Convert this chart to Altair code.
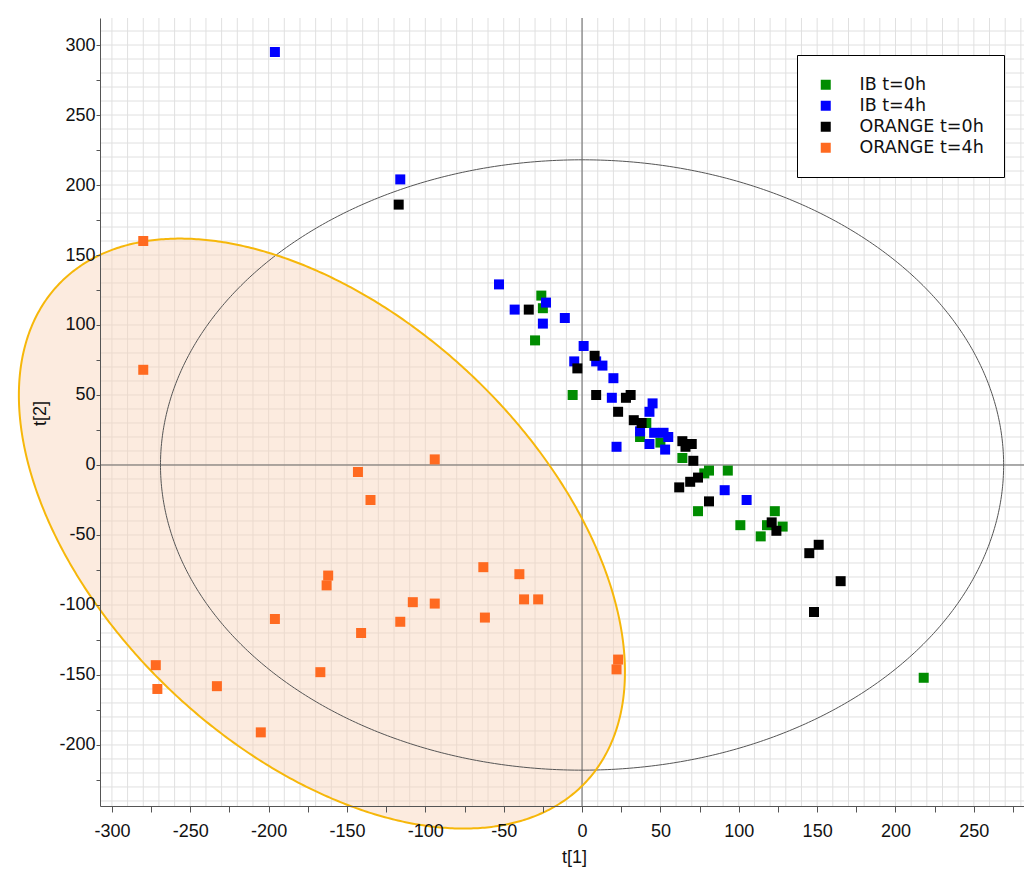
import numpy as np
import pandas as pd
import altair as alt

# ---------------- data ----------------
groups = ["IB t=0h", "IB t=4h", "ORANGE t=0h", "ORANGE t=4h"]
colors = ["#008c00", "#0000ff", "#000000", "#ff6a20"]

ib0_x = [-26, -25, -30, -6, 41, 37, 50, 64, 81, 78, 93, 74, 101, 123, 118, 128, 114, 218]
ib0_y = [121, 112, 89, 50, 30, 20, 16, 5, -4, -6, -4, -33, -43, -33, -43, -44, -51, -152]

ib4_x = [-196, -116, -53, -43, -23, -25, -11, 1, -5, 9, 13, 20, 19, 45, 43, 37, 46, 52, 55, 43, 53, 22, 91, 105]
ib4_y = [295, 204, 129, 111, 116, 101, 105, 85, 74, 74, 71, 62, 48, 44, 38, 24, 23, 23, 20, 15, 11, 13, -18, -25]

or0_x = [-117, -34, 8, -3, 9, 28, 31, 23, 33, 38, 64, 70, 66, 71, 74, 69, 62, 81, 121, 124, 151, 145, 165, 148]
or0_y = [186, 111, 78, 69, 50, 48, 50, 38, 32, 30, 17, 15, 13, 3, -9, -12, -16, -26, -41, -47, -57, -63, -83, -105]

or4_x = [-280, -280, -94, -143, -135, -63, -40, -162, -163, -37, -28, -108, -94, -196, -116, -62, -141, -272, -167, -271, -233, -205, 23, 22]
or4_y = [160, 68, 4, -5, -25, -73, -78, -79, -86, -96, -96, -98, -99, -110, -112, -109, -120, -143, -148, -160, -158, -191, -139, -146]

# Hotelling T2 ellipse (centred at origin) and the ORANGE t=4h group ellipse
t2_semi_axes = [269, 218]
orange_center = [-166, -49]
orange_cov = [[37390, -19095], [-19095, 44401]]

x_domain = [-307.6, 282]
y_domain = [-243.6, 319.3]
x_ticks = list(range(-300, 276, 25))
y_ticks = list(range(-225, 301, 25))
grid_x = list(range(-300, 281, 10))
grid_y = list(range(-240, 311, 10))

# ---------------- frames ----------------
pts = pd.DataFrame({
    "x": ib0_x + ib4_x + or0_x + or4_x,
    "y": ib0_y + ib4_y + or0_y + or4_y,
    "g": [groups[0]] * len(ib0_x) + [groups[1]] * len(ib4_x)
         + [groups[2]] * len(or0_x) + [groups[3]] * len(or4_x),
})

th = np.linspace(0, 2 * np.pi, 721)
t2 = pd.DataFrame({"x": t2_semi_axes[0] * np.cos(th),
                   "y": t2_semi_axes[1] * np.sin(th),
                   "o": np.arange(len(th))})

L = np.linalg.cholesky(np.array(orange_cov, dtype=float))
cx, cy = orange_center
oline = pd.DataFrame({"x": cx + L[0, 0] * np.cos(th),
                      "y": cy + L[1, 0] * np.cos(th) + L[1, 1] * np.sin(th),
                      "o": np.arange(len(th))})
th2 = np.linspace(0, np.pi, 400)
oarea = pd.DataFrame({"x": cx + L[0, 0] * np.cos(th2),
                      "y": cy + L[1, 0] * np.cos(th2) + L[1, 1] * np.sin(th2),
                      "y2": cy + L[1, 0] * np.cos(th2) - L[1, 1] * np.sin(th2)})

gx = pd.DataFrame({"x": grid_x})
gy = pd.DataFrame({"y": grid_y})
zero = pd.DataFrame({"x": [0], "y": [0]})

# ---------------- scales & axes ----------------
xs = alt.Scale(domain=x_domain, nice=False, zero=False)
ys = alt.Scale(domain=y_domain, nice=False, zero=False)

FONT = "Liberation Sans"
ax_x = alt.Axis(values=x_ticks,
                labelExpr="datum.value % 50 === 0 ? toString(datum.value) : ''",
                grid=False, domainColor="#555", tickColor="#555", tickSize=6,
                labelPadding=10, labelFont=FONT, labelFontSize=18, labelColor="#111",
                labelOverlap=False, labelFlush=False, labelBound=False,
                title="t[1]", titleFont=FONT, titleFontSize=18, titleFontWeight="normal",
                titleColor="#111", titleX=474, titleY=51, titleBaseline="middle",
                titleAlign="center", zindex=1)
ax_y = alt.Axis(values=y_ticks,
                labelExpr="datum.value % 50 === 0 ? toString(datum.value) : ''",
                grid=False, domainColor="#555", tickColor="#555", tickSize=4,
                labelPadding=1, labelFont=FONT, labelFontSize=18, labelColor="#111",
                labelOverlap=False, labelFlush=False, labelBound=False,
                title="t[2]", titleFont=FONT, titleFontSize=18, titleFontWeight="normal",
                titleColor="#111", titleX=-60, titleY=395,
                titleBaseline="middle", titleAlign="center", titleAngle=270, zindex=1)

X = lambda f="x": alt.X(f"{f}:Q", scale=xs, axis=ax_x)
Y = lambda f="y": alt.Y(f"{f}:Q", scale=ys, axis=ax_y)

grid_v = alt.Chart(gx).mark_rule(color="#e0e0e0", strokeWidth=1).encode(x=X())
grid_h = alt.Chart(gy).mark_rule(color="#e0e0e0", strokeWidth=1).encode(y=Y())

orange_fill = alt.Chart(oarea).mark_area(color="#f9d2b8", opacity=0.45).encode(
    x=X(), y=Y(), y2="y2:Q")
t2_line = alt.Chart(t2).mark_line(color="#555", strokeWidth=1).encode(
    x=X(), y=Y(), order="o:Q")
zero_v = alt.Chart(zero).mark_rule(color="#666", strokeWidth=1).encode(x=X())
zero_h = alt.Chart(zero).mark_rule(color="#666", strokeWidth=1).encode(y=Y())
orange_line = alt.Chart(oline).mark_line(color="#f6b70a", strokeWidth=2).encode(
    x=X(), y=Y(), order="o:Q")

points = alt.Chart(pts).mark_square(size=100, opacity=1, strokeWidth=0).encode(
    x=X(), y=Y(),
    color=alt.Color("g:N", scale=alt.Scale(domain=groups, range=colors),
                    legend=alt.Legend(title=" ", titleFontSize=1, titlePadding=0,
                                      orient="none", legendX=697, legendY=37,
                                      strokeColor="black", fillColor="white", padding=20,
                                      symbolType="square", symbolSize=100,
                                      symbolStrokeWidth=0, symbolOpacity=1,
                                      labelFont="DejaVu Sans", labelFontSize=17.5,
                                      labelColor="#111", labelOffset=25, rowPadding=2)))

chart = alt.layer(grid_v, grid_h, orange_fill, t2_line, zero_v, zero_h, orange_line, points).properties(
    width=924, height=788,
    padding={"left": 92, "top": 10, "right": 0, "bottom": 64},
    autosize=alt.AutoSizeParams(type="none"),
).configure_view(stroke=None)

chart.save("out.html", embed_options={"renderer": "svg", "actions": False})
